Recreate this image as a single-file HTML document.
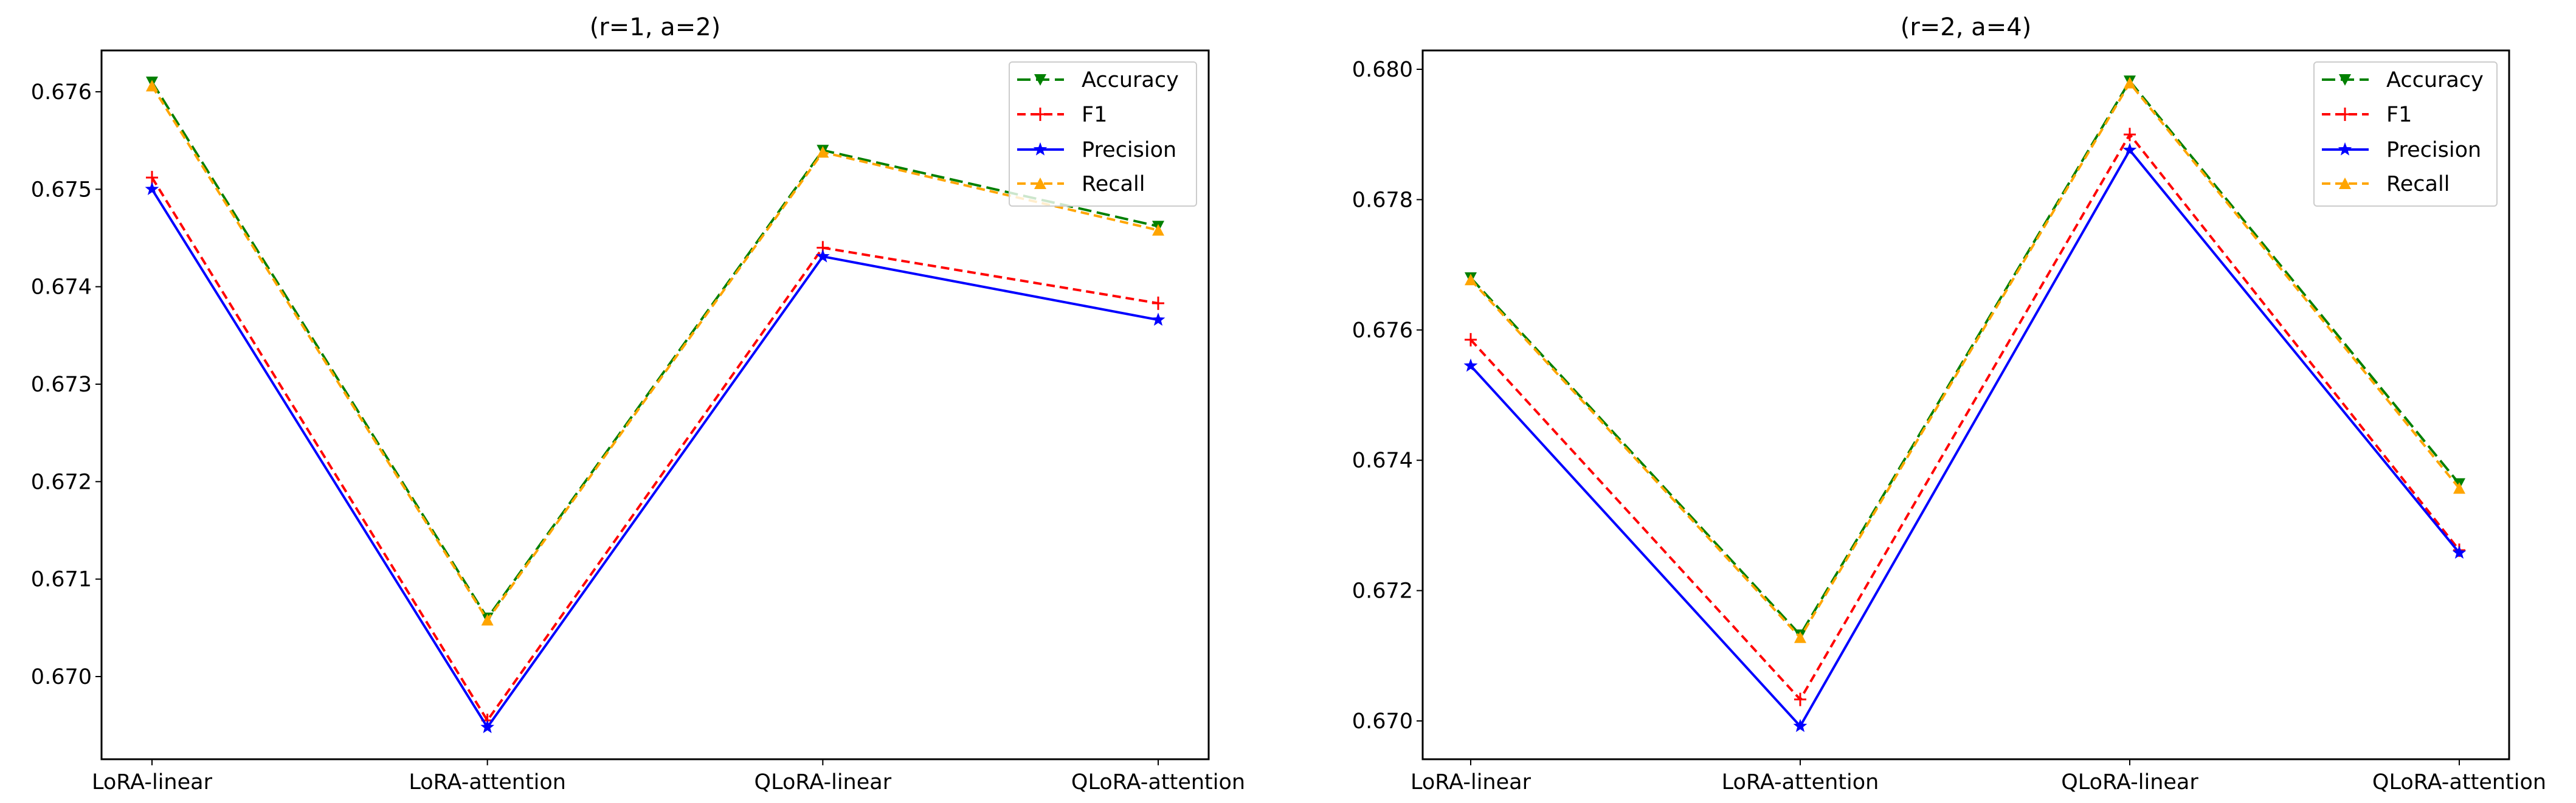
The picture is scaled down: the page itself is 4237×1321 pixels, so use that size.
<!DOCTYPE html>
<html><head><meta charset="utf-8"><style>
html,body{margin:0;padding:0;background:#fff}
svg{display:block;font-family:"DejaVu Sans","Liberation Sans",sans-serif}
</style></head><body>
<svg id="chart" width="4237" height="1321" viewBox="0 0 4237 1321" xmlns="http://www.w3.org/2000/svg"></svg>
<script>
const categories = ["LoRA-linear","LoRA-attention","QLoRA-linear","QLoRA-attention"];
const seriesNames = ["Accuracy","F1","Precision","Recall"];
const leftAccuracy = [0.67610,0.67060,0.67540,0.67462];
const leftF1 = [0.67512,0.66955,0.67440,0.67383];
const leftPrecision = [0.67500,0.66948,0.67431,0.67366];
const leftRecall = [0.67606,0.67058,0.67538,0.67458];
const rightAccuracy = [0.67680,0.67132,0.67982,0.67364];
const rightF1 = [0.67585,0.67033,0.67900,0.67262];
const rightPrecision = [0.67545,0.66992,0.67876,0.67258];
const rightRecall = [0.67677,0.67128,0.67979,0.67357];
const leftTicks = [0.670,0.671,0.672,0.673,0.674,0.675,0.676];
const rightTicks = [0.670,0.672,0.674,0.676,0.678,0.680];

const NS="http://www.w3.org/2000/svg";
const svg=document.getElementById('chart');
function mk(tag,attrs,parent){const e=document.createElementNS(NS,tag);for(const k in attrs)e.setAttribute(k,attrs[k]);(parent||svg).appendChild(e);return e;}
const styles=[
 {color:"green",dash:"22,9",marker:"tridown"},
 {color:"red",dash:"14,8",marker:"plus"},
 {color:"blue",dash:"",marker:"star"},
 {color:"orange",dash:"14,8",marker:"triup"}
];
function marker(g,type,x,y,color){
 let e;
 if(type==="tridown"){e=mk('polygon',{points:`${x-10},${y-9} ${x+10},${y-9} ${x},${y+10}`,fill:color},g);}
 else if(type==="triup"){e=mk('polygon',{points:`${x-10},${y+9} ${x+10},${y+9} ${x},${y-10}`,fill:color},g);}
 else if(type==="plus"){e=mk('path',{d:`M${x-10},${y}H${x+10}M${x},${y-11}V${y+11}`,stroke:color,'stroke-width':3,fill:'none'},g);}
 else {let p=[];for(let i=0;i<10;i++){const r=i%2?5:12;const a=-Math.PI/2+i*Math.PI/5;p.push((x+r*Math.cos(a)).toFixed(1)+','+(y+r*Math.sin(a)).toFixed(1));}
   e=mk('polygon',{points:p.join(' '),fill:color},g);}
 
 
}
function panel(cfg){
 const g=mk('g',{});
 
 
 const yv=v=>cfg.y0px+(v-cfg.v0)*(cfg.y1px-cfg.y0px)/(cfg.v1-cfg.v0);
 const xv=i=>cfg.xs0+i*(cfg.xs1-cfg.xs0)/(categories.length-1);
 const t=mk('text',{x:(cfg.L+cfg.R)/2,y:58,'font-size':40,'text-anchor':'middle',fill:'#000'},g);
 t.textContent=cfg.title;
 
 
 cfg.ticks.forEach(v=>{const y=yv(v);
  mk('line',{x1:cfg.L-10,x2:cfg.L,y1:y,y2:y,stroke:'#000','stroke-width':2},g);
  const tl=mk('text',{x:cfg.L-16,y:y+12,'font-size':35,'text-anchor':'end',fill:'#000'},g);
  tl.textContent=v.toFixed(3);
  
  
 });
 categories.forEach((c,i)=>{const x=xv(i);
  mk('line',{x1:x,x2:x,y1:cfg.B,y2:cfg.B+10,stroke:'#000','stroke-width':2},g);
  const tl=mk('text',{x:x,y:1298,'font-size':35,'text-anchor':'middle',fill:'#000'},g);
  tl.textContent=c;
  
  
 });
 cfg.series.forEach((vals,si)=>{const s=styles[si];
  const pl=mk('polyline',{points:vals.map((v,i)=>xv(i)+','+yv(v)).join(' '),fill:'none',stroke:s.color,'stroke-width':4,'stroke-dasharray':s.dash},g);
  
  
  vals.forEach((v,i)=>marker(g,s.marker,xv(i),yv(v),s.color));
 });
 const fr=mk('rect',{x:cfg.L,y:83,width:cfg.R-cfg.L,height:cfg.B-83,fill:'none',stroke:'#000','stroke-width':3},g);
 
 
 const lg=mk('g',{},g);
 
 
 const lx=cfg.R-cfg.legW-20;
 mk('rect',{x:lx,y:102,width:cfg.legW,height:237,rx:5,fill:'#fff','fill-opacity':0.8,stroke:'#ccc','stroke-width':2},lg);
 [131,188,246,302].forEach((y,si)=>{const s=styles[si];
  const e=mk('g',{},lg);
  
  
  mk('line',{x1:lx+13,x2:lx+90,y1:y,y2:y,stroke:s.color,'stroke-width':4,'stroke-dasharray':s.dash},e);
  marker(e,s.marker,lx+51,y,s.color);
  const tt=mk('text',{x:lx+119,y:y+12,'font-size':35,fill:'#000'},e);
  tt.textContent=seriesNames[si];
 });
}
panel({name:'left-panel',title:'(r=1, a=2)',L:167,R:1988,B:1249,xs0:250,xs1:1905,v0:0.676,y0px:151,v1:0.670,y1px:1113,ticks:leftTicks,legW:308,
 series:[leftAccuracy,leftF1,leftPrecision,leftRecall]});
panel({name:'right-panel',title:'(r=2, a=4)',L:2340,R:4127,B:1249,xs0:2419,xs1:4045,v0:0.680,y0px:114,v1:0.670,y1px:1186,ticks:rightTicks,legW:301,
 series:[rightAccuracy,rightF1,rightPrecision,rightRecall]});
</script>
</body></html>
